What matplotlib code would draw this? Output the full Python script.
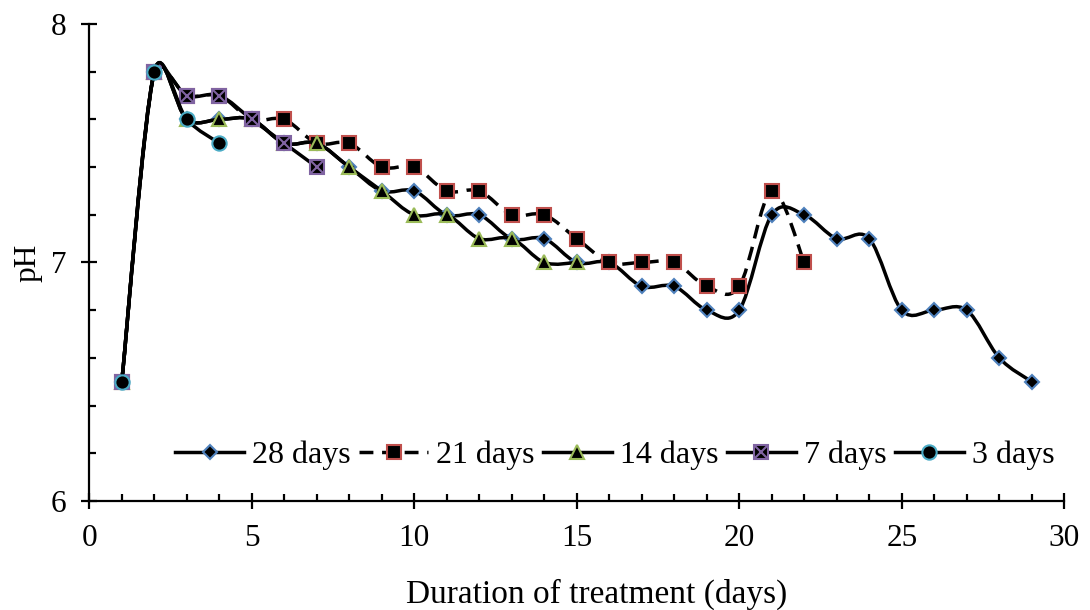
import numpy as np
import matplotlib
matplotlib.use("Agg")
import matplotlib.pyplot as plt
from matplotlib.path import Path
from matplotlib.patches import PathPatch
from matplotlib.lines import Line2D
from matplotlib.legend_handler import HandlerTuple
from matplotlib.ticker import MultipleLocator

plt.rcParams['font.family'] = ['Liberation Serif', 'DejaVu Serif']

# data (day of treatment vs pH)
days_28 = list(range(1, 30))
ph_28 = [6.5, 7.8, 7.6, 7.6, 7.6, 7.5, 7.5, 7.4, 7.3, 7.3, 7.2, 7.2, 7.1, 7.1, 7.0,
         7.0, 6.9, 6.9, 6.8, 6.8, 7.2, 7.2, 7.1, 7.1, 6.8, 6.8, 6.8, 6.6, 6.5]
days_21 = list(range(1, 23))
ph_21 = [6.5, 7.8, 7.7, 7.7, 7.6, 7.6, 7.5, 7.5, 7.4, 7.4, 7.3, 7.3, 7.2, 7.2, 7.1,
         7.0, 7.0, 7.0, 6.9, 6.9, 7.3, 7.0]
days_14 = list(range(1, 16))
ph_14 = [6.5, 7.8, 7.6, 7.6, 7.6, 7.5, 7.5, 7.4, 7.3, 7.2, 7.2, 7.1, 7.1, 7.0, 7.0]
days_7 = list(range(1, 8))
ph_7 = [6.5, 7.8, 7.7, 7.7, 7.6, 7.5, 7.4]
days_3 = list(range(1, 5))
ph_3 = [6.5, 7.8, 7.6, 7.5]

labels = ['28 days', '21 days', '14 days', '7 days', '3 days']


def smooth_path(xs, ys, sx, sy, limit=0.6):
    # excel-like smoothed line: catmull-rom beziers worked out in pixel space,
    # tangents capped relative to the segment length
    pts = np.column_stack([np.asarray(xs, float) * sx, np.asarray(ys, float) * sy])
    n = len(pts)
    verts = [pts[0]]
    codes = [Path.MOVETO]
    for i in range(n - 1):
        p0 = pts[i - 1] if i > 0 else pts[i]
        p3 = pts[i + 2] if i + 2 < n else pts[i + 1]
        d = np.hypot(*(pts[i + 1] - pts[i]))
        t1 = (pts[i + 1] - p0) / 6
        t2 = (p3 - pts[i]) / 6
        for t in (t1, t2):
            m = np.hypot(*t)
            if m > limit * d:
                t *= limit * d / m
        verts += [pts[i] + t1, pts[i + 1] - t2, pts[i + 1]]
        codes += [Path.CURVE4] * 3
    verts = np.array(verts) / [sx, sy]
    return Path(verts, codes)


fig = plt.figure(figsize=(10.9, 6.1), dpi=100)
ax = fig.add_axes([0.0819, 0.1787, 0.8945, 0.782])
ax.set_xlim(0, 30)
ax.set_ylim(6, 8)

bb = ax.get_window_extent()
sx = bb.width / 30
sy = bb.height / 2

lw = 2.5
dash = (0, (4, 2.5))

series = [
    (days_28, ph_28, 'D', 7.2, '#4F81BD', 'solid'),
    (days_21, ph_21, 's', 9.8, '#C0504D', dash),
    (days_14, ph_14, '^', 10.5, '#9BBB59', 'solid'),
    (days_7, ph_7, 's', 9.8, '#8064A2', 'solid'),
    (days_3, ph_3, 'o', 10.3, '#4BACC6', 'solid'),
]

handles = []
for k, (xs, ys, mk, ms, col, ls) in enumerate(series):
    z = 3 + k
    ax.add_patch(PathPatch(smooth_path(xs, ys, sx, sy), facecolor='none', edgecolor='black',
                           lw=lw, linestyle=ls, zorder=z, capstyle='butt'))
    ax.plot(xs, ys, linestyle='none', marker=mk, markersize=ms, markerfacecolor='black',
            markeredgecolor=col, markeredgewidth=1.5, zorder=z + 0.5)
    h = Line2D([], [], color='black', lw=lw, linestyle=ls, marker=mk, markersize=ms,
               markerfacecolor='black', markeredgecolor=col, markeredgewidth=1.5)
    if labels[k] == '7 days':
        ax.plot(xs, ys, linestyle='none', marker='x', markersize=ms, markeredgecolor=col,
                markeredgewidth=1.5, zorder=z + 0.6)
        hx = Line2D([], [], linestyle='none', marker='x', markersize=ms,
                    markeredgecolor=col, markeredgewidth=1.5)
        h = (h, hx)
    handles.append(h)

ax.xaxis.set_major_locator(MultipleLocator(5))
ax.xaxis.set_minor_locator(MultipleLocator(1))
ax.yaxis.set_major_locator(MultipleLocator(1))
ax.yaxis.set_minor_locator(MultipleLocator(0.2))

for side in ['top', 'right']:
    ax.spines[side].set_visible(False)
for side in ['left', 'bottom']:
    ax.spines[side].set_linewidth(1.6)

ax.tick_params(which='major', direction='inout', length=11.5, width=1.6,
               labelsize=22.5, pad=11)
ax.tick_params(which='minor', direction='in', length=5, width=1.6)

ax.set_xlabel('Duration of treatment (days)', fontsize=24)
ax.xaxis.set_label_coords(0.52, -0.162)
ax.set_ylabel('pH', fontsize=22.5, labelpad=6)

ax.legend(handles, labels, ncol=5, loc='center', bbox_to_anchor=(0.539, 0.096),
          frameon=False, fontsize=23, handlelength=2.15, handletextpad=0.25,
          columnspacing=0.27, borderaxespad=0, borderpad=0,
          handler_map={tuple: HandlerTuple(ndivide=1, pad=0)})

fig.savefig('out.png', dpi=100)
